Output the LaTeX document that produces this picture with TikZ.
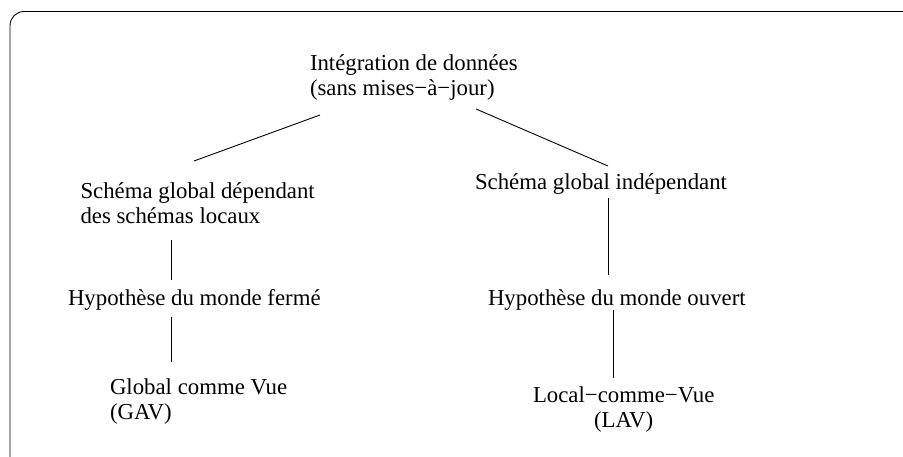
\documentclass[tikz,border=0pt]{standalone}
\usepackage{fontspec}
\setmainfont{Liberation Serif}
\usetikzlibrary{calc}

\tikzset{
  label text/.style={inner sep=0pt, outer sep=0pt, anchor=base west,
    font=\fontsize{22.8}{25}\selectfont},
  link/.style={draw=black, line width=0.9pt},
  frame/.style={draw=black, line width=0.9pt, rounded corners=14pt}
}

\newcommand{\leftlines}[1]{\begin{tabular}[t]{@{}l@{}}#1\end{tabular}}
\newcommand{\centrelines}[1]{\begin{tabular}[t]{@{}c@{}}#1\end{tabular}}

\begin{document}
\begin{tikzpicture}[x=1pt, y=-1pt]
  \useasboundingbox (0,0) rectangle (903,457);

  % open frame: left side and top, rounded at the corner
  \draw[frame] (10,458) -- (10,11.5) -- (904,11.5);

  % texts
  \node[label text] (top)    at (310,71)    {\leftlines{Intégration de données\\(sans mises−à−jour)}};
  \node[label text] (dep)    at (80.5,198.2) {\leftlines{Schéma global dépendant\\des schémas locaux}};
  \node[label text] (indep)  at (475,189.5) {\leftlines{Schéma global indépendant}};
  \node[label text] (closed) at (68,306)    {\leftlines{Hypothèse du monde fermé}};
  \node[label text] (open)   at (488,305.5) {\leftlines{Hypothèse du monde ouvert}};
  \node[label text] (gav)    at (110,394)   {\leftlines{Global comme Vue\\(GAV)}};
  \node[label text] (lav)    at (533,402.5) {\centrelines{Local−comme−Vue\\(LAV)}};

  % tree links
  \draw[link] ($(top.south west)+(10,11.5)$)   -- ($(dep.north west)+(113.5,-19.7)$);
  \draw[link] ($(top.south west)+(166,5.5)$)   -- ($(indep.north west)+(133,-6)$);
  \draw[link] ($(dep.south west)+(90.5,9.5)$)  -- ($(closed.north west)+(103,-8.5)$);
  \draw[link] ($(closed.south west)+(103,3.5)$) -- ($(gav.north west)+(61,-14.5)$);
  \draw[link] ($(indep.south west)+(133,1)$)   -- ($(open.north west)+(120,-13)$);
  \draw[link] ($(open.south west)+(125,-3)$)   -- ($(lav.north west)+(80,-7)$);
\end{tikzpicture}
\end{document}
